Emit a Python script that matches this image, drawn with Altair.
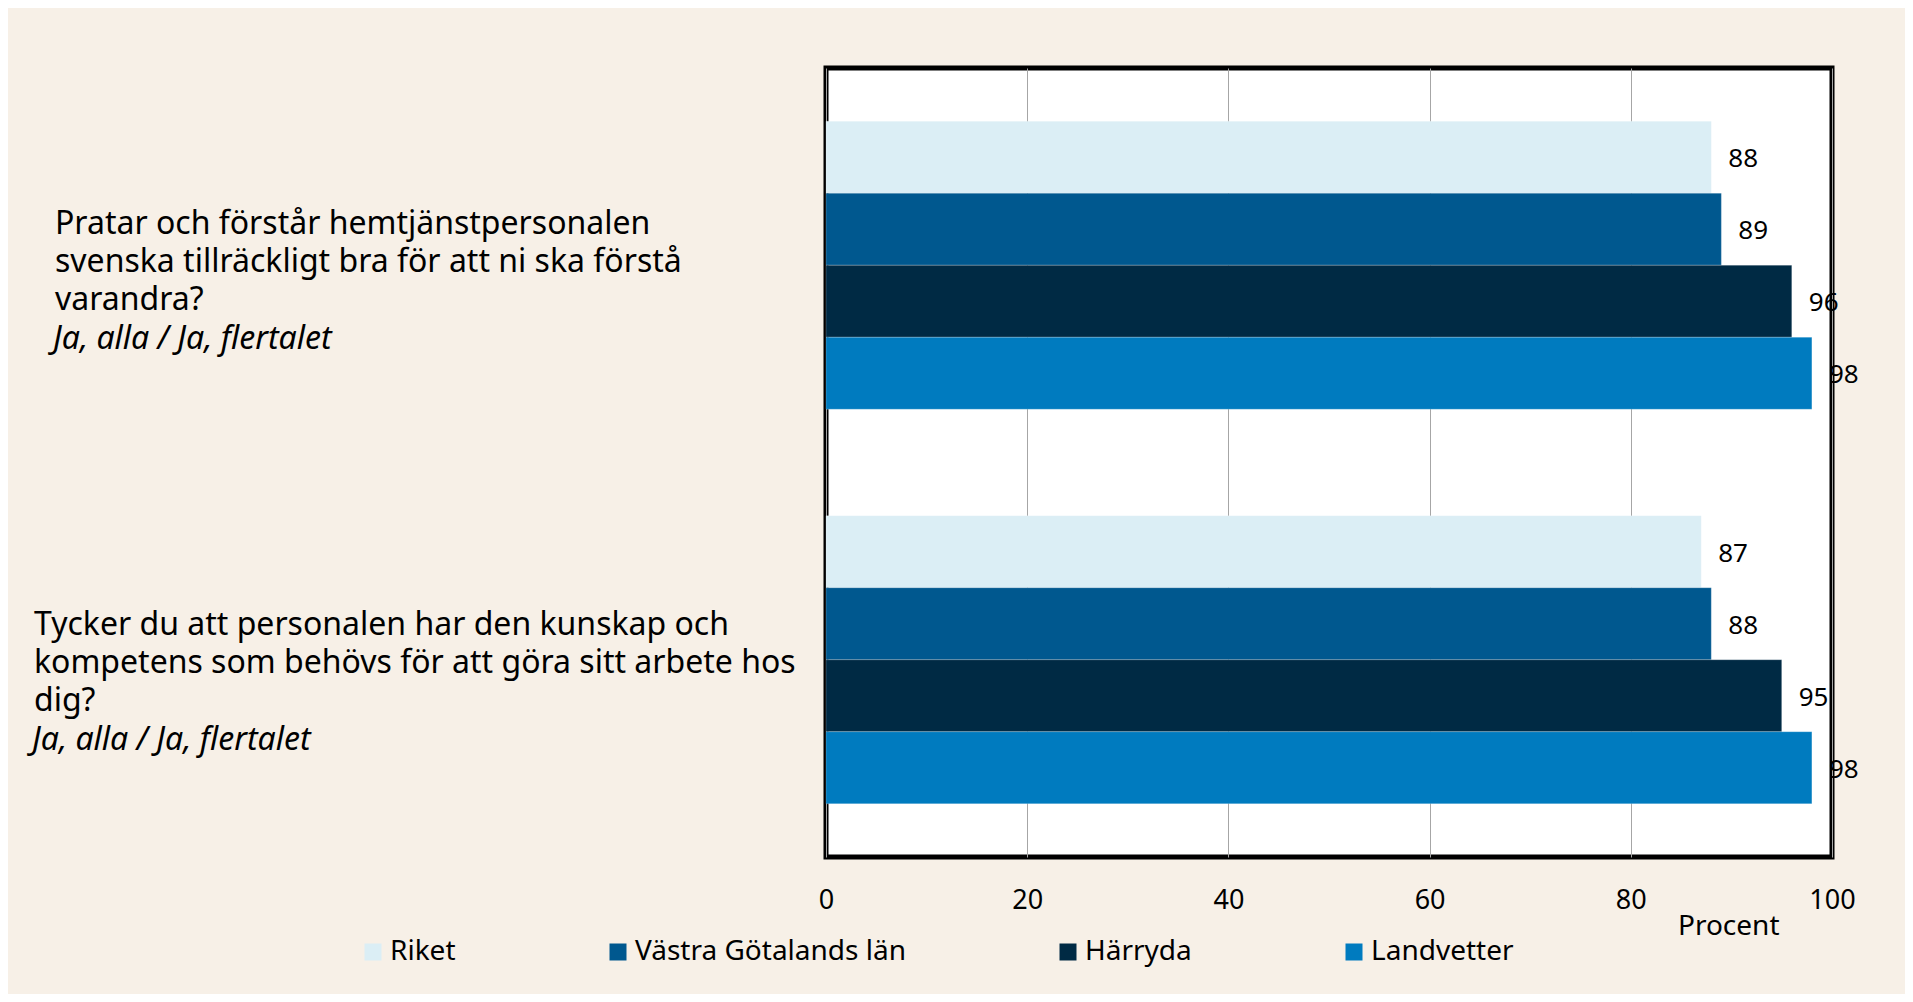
import altair as alt
import pandas as pd

# ---- data ----
question_ids = ["Q1", "Q2"]
question_texts = [
    "Pratar och förstår hemtjänstpersonalen\nsvenska tillräckligt bra för att ni ska förstå\nvarandra?",
    "Tycker du att personalen har den kunskap och\nkompetens som behövs för att göra sitt arbete hos\ndig?",
]
answer_texts = ["Ja, alla / Ja, flertalet", "Ja, alla / Ja, flertalet"]
series = ["Riket", "Västra Götalands län", "Härryda", "Landvetter"]
q1_values = [88, 89, 96, 98]
q2_values = [87, 88, 95, 98]
x_ticks = [0, 20, 40, 60, 80, 100]
colors = ["#dbeef5", "#00588f", "#002a44", "#007bbf"]

FONT = "Noto Sans"

rows = []
for qid, vals in zip(question_ids, [q1_values, q2_values]):
    for s, v in zip(series, vals):
        rows.append({"q": qid, "series": s, "value": v})
df = pd.DataFrame(rows)

labels_df = pd.DataFrame({"q": question_ids, "text": question_texts, "answer": answer_texts})

yscale = alt.Scale(domain=question_ids, paddingInner=0.27, paddingOuter=0.135)
y_enc = alt.Y("q:N", sort=question_ids, scale=yscale, axis=None)

base = alt.Chart(df).encode(
    y=y_enc,
    yOffset=alt.YOffset("series:N", sort=series,
                        scale=alt.Scale(domain=series, paddingInner=0, paddingOuter=0)),
    x=alt.X("value:Q",
            scale=alt.Scale(domain=[0, 100], nice=False),
            axis=alt.Axis(values=x_ticks, grid=True, gridColor="#a6a6a6", gridWidth=1,
                          domain=False, ticks=False, labelFontSize=27, labelFont=FONT,
                          labelColor="black", labelPadding=30, labelFlush=False,
                          title="Procent", titleFont=FONT, titleFontSize=28,
                          titleFontWeight="normal", titleColor="black",
                          titleAlign="right", titleAnchor="start", titleX=953, titleY=69,
                          titleBaseline="middle")),
)

bars = base.mark_bar(stroke="#ffffff", strokeWidth=0.6, strokeOpacity=0.35).encode(
    color=alt.Color("series:N", sort=series,
                    scale=alt.Scale(domain=series, range=colors),
                    legend=alt.Legend(title=None, orient="none", direction="horizontal",
                                      legendX=-467, legendY=870,
                                      symbolType="square", symbolSize=289,
                                      symbolStrokeWidth=0, columnPadding=148,
                                      labelFont=FONT, labelFontSize=28,
                                      labelColor="black", labelOffset=3,
                                      labelLimit=600))
)

values_text = base.mark_text(align="left", baseline="middle", dx=17, dy=2,
                             font=FONT, fontSize=26, color="black").encode(
    text="value:Q"
)

def qtext(qid, xpos, dy_main, dy_ans):
    src = alt.Chart(labels_df).transform_filter(alt.datum.q == qid)
    main = src.mark_text(align="left", baseline="middle", lineBreak="\n",
                         lineHeight=38, dy=dy_main, font=FONT, fontSize=32,
                         color="black").encode(
        y=y_enc, x=alt.value(xpos), text="text:N")
    ans = src.mark_text(align="left", baseline="middle", dy=dy_ans, font=FONT,
                        fontSize=32, fontStyle="italic", color="black").encode(
        y=y_enc, x=alt.value(xpos - 2), text="answer:N")
    return main, ans

q1m, q1a = qtext("Q1", -771, -41, 74)
q2m, q2a = qtext("Q2", -792, -35, 80)

chart = alt.layer(bars, values_text, q1m, q1a, q2m, q2a).properties(
    width=1006, height=789,
    autosize=alt.AutoSizeParams(type="none"),
    padding={"left": 818, "top": 60, "right": 73, "bottom": 137},
    background="#f7f0e7",
).configure_view(stroke="black", strokeWidth=5, fill="white")

chart.save("out.html", embed_options={"renderer": "svg", "actions": False})
